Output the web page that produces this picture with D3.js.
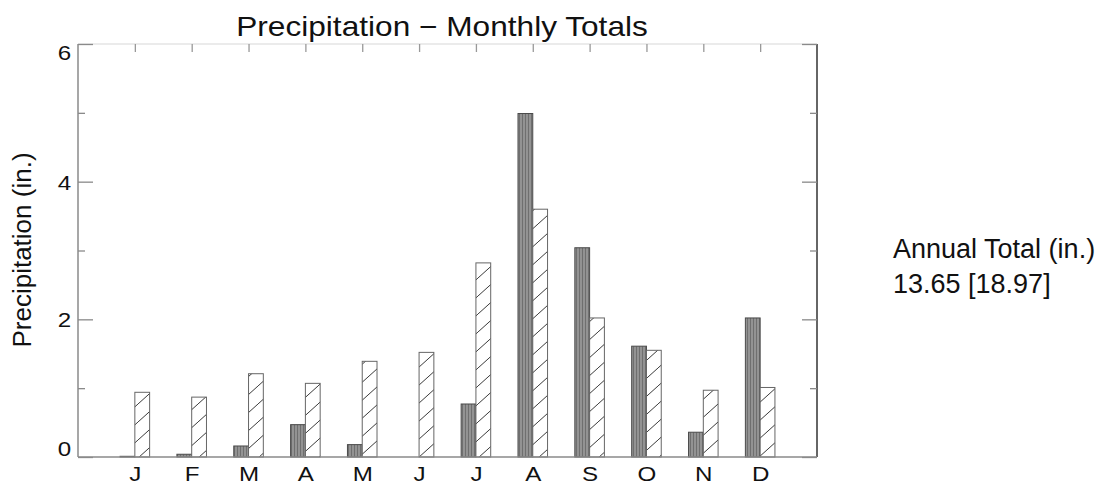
<!DOCTYPE html>
<html>
<head>
<meta charset="utf-8">
<script src="https://cdn.jsdelivr.net/npm/d3@7"></script>
<style>
  body { margin: 0; background: #fff; }
  svg { display: block; font-family: "Liberation Sans", Arial, sans-serif; }
</style>
</head>
<body>
<div id="chart"></div>
<script>
// monthly totals (inches)
var months = ["J","F","M","A","M","J","J","A","S","O","N","D"];
var observed = [0.01, 0.04, 0.16, 0.47, 0.18, 0.00, 0.77, 4.99, 3.04, 1.61, 0.36, 2.02];
var normals  = [0.94, 0.87, 1.21, 1.07, 1.39, 1.52, 2.82, 3.60, 2.02, 1.55, 0.97, 1.01];
var yMajor = [0, 2, 4, 6];
var yMinor = [1, 3, 5];
var totalLines = ["Annual Total (in.)", "13.65 [18.97]"];

var margin = {top: 44, right: 287, bottom: 30, left: 78},
    width = 1104 - margin.left - margin.right,
    height = 487 - margin.top - margin.bottom;

var root = d3.select("#chart")
  .append("svg")
    .attr("width", 1104)
    .attr("height", 487);

// fill patterns
var defs = root.append("defs");
var stripe = defs.append("pattern")
    .attr("id", "stripe")
    .attr("patternUnits", "userSpaceOnUse")
    .attr("width", 3).attr("height", 10);
stripe.append("rect").attr("width", 3).attr("height", 10).attr("fill", "#939393");
stripe.append("rect").attr("width", 1).attr("height", 10).attr("fill", "#6f6f6f");

var hatch = defs.append("pattern")
    .attr("id", "hatch")
    .attr("patternUnits", "userSpaceOnUse")
    .attr("width", 20).attr("height", 18);
hatch.append("rect").attr("width", 20).attr("height", 18).attr("fill", "#fff");
hatch.append("path")
    .attr("d", "M0,18L20,0M-2,2L2,-2M18,20L22,16")
    .attr("stroke", "#3a3a3a").attr("stroke-width", 1).attr("fill", "none");

var svg = root.append("g")
    .attr("transform", "translate(" + margin.left + "," + margin.top + ")");

var x = d3.scaleLinear().domain([0, 13]).range([0, width]);
var y = d3.scaleLinear().domain([0, 6]).range([height, 0]);
var barW = x(0.26) - x(0);

// bars
svg.selectAll(".obs")
  .data(observed)
  .enter().append("rect")
    .attr("class", "obs")
    .attr("x", function(d, i) { return x(i + 1) - barW; })
    .attr("y", function(d) { return y(d); })
    .attr("width", barW)
    .attr("height", function(d) { return height - y(d); })
    .attr("fill", "url(#stripe)")
    .attr("stroke", function(d) { return d > 0 ? "#4a4a4a" : "none"; })
    .attr("stroke-width", 1);

svg.selectAll(".norm")
  .data(normals)
  .enter().append("rect")
    .attr("class", "norm")
    .attr("x", function(d, i) { return x(i + 1); })
    .attr("y", function(d) { return y(d); })
    .attr("width", barW)
    .attr("height", function(d) { return height - y(d); })
    .attr("fill", "url(#hatch)")
    .attr("stroke", "#666")
    .attr("stroke-width", 1);

// frame
svg.append("line").attr("x1", 0).attr("x2", width).attr("y1", 0).attr("y2", 0)
    .attr("stroke", "#e4e4e4").attr("stroke-width", 1.5);
svg.append("line").attr("x1", 0).attr("x2", 0).attr("y1", 0).attr("y2", height)
    .attr("stroke", "#8a8a8a").attr("stroke-width", 1.5);
svg.append("line").attr("x1", width).attr("x2", width).attr("y1", 0).attr("y2", height)
    .attr("stroke", "#666").attr("stroke-width", 2);
svg.append("line").attr("x1", 0).attr("x2", width).attr("y1", height).attr("y2", height)
    .attr("stroke", "#8a8a8a").attr("stroke-width", 1.5);

// y axes
var axL = svg.append("g")
  .call(d3.axisLeft(y).tickValues(yMajor).tickSizeInner(-15).tickSizeOuter(0).tickPadding(6)
      .tickFormat(d3.format("d")));
var axLm = svg.append("g")
  .call(d3.axisLeft(y).tickValues(yMinor).tickSizeInner(-7).tickSizeOuter(0).tickFormat(""));
var axR = svg.append("g")
  .attr("transform", "translate(" + width + ",0)")
  .call(d3.axisRight(y).tickValues(yMajor).tickSizeInner(-15).tickSizeOuter(0).tickFormat(""));
var axRm = svg.append("g")
  .attr("transform", "translate(" + width + ",0)")
  .call(d3.axisRight(y).tickValues(yMinor).tickSizeInner(-7).tickSizeOuter(0).tickFormat(""));
var axT = svg.append("g")
  .call(d3.axisTop(x).tickValues(d3.range(1, 13)).tickSizeInner(-8).tickSizeOuter(0).tickFormat(""));
var axB = svg.append("g")
  .attr("transform", "translate(0," + height + ")")
  .call(d3.axisBottom(x).tickValues(d3.range(1, 13)).tickSize(0).tickPadding(9)
      .tickFormat(function(d) { return months[d - 1]; }));

[axL, axLm, axR, axRm, axT, axB].forEach(function(a) {
  a.select(".domain").remove();
  a.selectAll(".tick line").attr("stroke", "#8a8a8a").attr("stroke-width", 1.3);
});
axT.selectAll(".tick line").attr("stroke", "#999");

axL.selectAll(".tick text")
    .attr("font-size", 21)
    .attr("font-family", "Liberation Sans, Arial, sans-serif")
    .attr("fill", "#111")
    .attr("dy", function(d) { return d === 0 ? "-0.05em" : (d === 6 ? "0.72em" : "0.36em"); })
    .attr("transform", "scale(1.15,1)");
axB.selectAll(".tick text")
    .attr("font-size", 21)
    .attr("font-family", "Liberation Sans, Arial, sans-serif")
    .attr("fill", "#111")
    .attr("transform", "scale(1.15,1)");

// titles
root.append("text")
    .attr("transform", "translate(442,36) scale(1.13,1)")
    .attr("text-anchor", "middle")
    .attr("font-size", 28)
    .attr("fill", "#111")
    .text("Precipitation \u2212 Monthly Totals");

root.append("text")
    .attr("transform", "translate(31,250) rotate(-90)")
    .attr("text-anchor", "middle")
    .attr("font-size", 26)
    .attr("fill", "#111")
    .text("Precipitation (in.)");

root.selectAll(".total")
  .data(totalLines)
  .enter().append("text")
    .attr("class", "total")
    .attr("x", 893)
    .attr("y", function(d, i) { return 258 + i * 35; })
    .attr("font-size", 27)
    .attr("fill", "#111")
    .text(function(d) { return d; });
</script>
</body>
</html>
